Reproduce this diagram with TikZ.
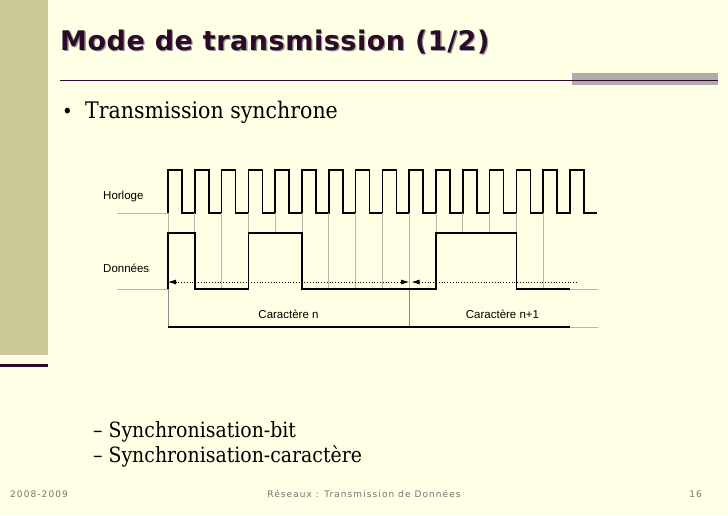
\documentclass[tikz,border=0pt]{standalone}
\usepackage{fontspec}
\usepackage{tikz}
\usetikzlibrary{arrows.meta, positioning, calc}
\newfontfamily\titlefont[LetterSpace=2]{DejaVu Sans}
\newfontfamily\bodyfont{DejaVu Serif Condensed}
\newfontfamily\figfont{Liberation Sans}
\newfontfamily\footfont[LetterSpace=12]{DejaVu Sans}
\definecolor{slidebg}{RGB}{255,255,229}
\definecolor{sidebar}{RGB}{204,201,152}
\definecolor{deepplum}{RGB}{45,10,40}
\definecolor{rulegray}{RGB}{176,172,172}
\definecolor{gridgray}{RGB}{185,185,170}
\tikzset{
  signal/.style={line width=1.7pt, black},
  gridline/.style={line width=0.8pt, gridgray},
  bound/.style={line width=0.8pt, black!45},
  span/.style={dotted, line width=0.8pt},
  figlabel/.style={font=\figfont\fontsize{11.5}{11.5}\selectfont, inner sep=0pt},
}

\begin{document}
\begin{tikzpicture}[x=1pt, y=-1pt]
    \useasboundingbox[fill=slidebg] (0,0) rectangle (728,515);

    % slide frame
    \fill[sidebar] (0,0) rectangle (48,355);
    \fill[deepplum] (0,363.5) rectangle (48,367);
    \fill[rulegray] (572,73) rectangle (718,85);
    \draw[deepplum, line width=1.2pt] (60,80.5) -- (718,80.5);

    \node[anchor=base west, inner sep=0pt, text=black!40, font=\titlefont\bfseries\fontsize{27}{27}\selectfont] (shadow) at (61.3,51.3) {Mode de transmission (1/2)};
    \node[anchor=base west, inner sep=0pt, text=deepplum, font=\titlefont\bfseries\fontsize{27}{27}\selectfont] (title) at (60,50) {Mode de transmission (1/2)};

    \node[anchor=base west, inner sep=0pt, font=\bodyfont\fontsize{20}{20}\selectfont] (bullet) at (62,118) {\textbullet};
    \node[anchor=base west, inner sep=0pt, font=\bodyfont\fontsize{22.8}{22.8}\selectfont] (point) at (85,118) {Transmission synchrone};

    % clock and data, one bit every 26.8
    \coordinate (t0) at (168,213);
    \draw[gridline] (117,213) -- (t0);
    \draw[signal] (t0) \foreach \k in {0,...,15} {
        -- ++(0,-43) -- ++(14,0) -- ++(0,43) -- ++(12.8,0)};

    \foreach \k/\lvl in {1/233,2/289,3/233,4/233,5/233,6/289,7/289,8/289,
                         10/233,11/233,12/233,13/233,14/289}
        \draw[gridline] ({168+\k*26.8},213) -- ({168+\k*26.8},\lvl);
    \draw[gridline] (168,213) -- (168,233);
    \draw[gridline] (409.2,213) -- (409.2,289);

    % character limits
    \coordinate (c0) at (168,327);
    \coordinate (c1) at (409.2,327);
    \coordinate (c2) at (570,327);
    \coordinate (c3) at (598,327);
    \draw[bound] (168,289) -- (c0);
    \draw[bound] (409.2,289) -- (c1);
    \draw[signal, line width=1.2pt] (c0) -- (c2);
    \draw[gridline] (c2) -- (c3);

    \draw[gridline] (117,289) -- (168,289);
    \draw[signal] (168,289) -- (168,233) -- (194.8,233) -- (194.8,289)
        -- (248.4,289) -- (248.4,233) -- (302,233) -- (302,289)
        -- (436,289) -- (436,233) -- (516.4,233) -- (516.4,289) -- (570,289);
    \draw[gridline] (570,289) -- (598,289);

    % character spans
    \coordinate (a0) at (168,282);
    \coordinate (a1) at (409.2,282);
    \coordinate (b0) at (411.5,282);
    \coordinate (b1) at (578,282);
    \draw[span, {Latex[length=8pt,width=5pt]}-{Latex[length=8pt,width=5pt]}] (a0) -- (a1);
    \draw[span, {Latex[length=8pt,width=5pt]}-] (b0) -- (b1);

    \node[figlabel, anchor=west] (horloge) at (103,197) {Horloge};
    \node[figlabel, anchor=west] (donnees) at (103,268) {Données{\fontsize{5}{5}\selectfont:}};
    \node[figlabel] (carn) at (288.5,314) {Caractère n};
    \node[figlabel] (carn1) at (502.5,314) {Caractère n+1};

    \node[anchor=base west, inner sep=0pt, font=\bodyfont\fontsize{21}{21}\selectfont] (sub1) at (93,437) {– Synchronisation-bit};
    \node[anchor=base west, inner sep=0pt, font=\bodyfont\fontsize{21}{21}\selectfont] (sub2) at (93,462) {– Synchronisation-caractère};

    % footer
    \node[anchor=base west, inner sep=0pt, text=black!55, font=\footfont\fontsize{9}{9}\selectfont] (year) at (10,497) {2008-2009};
    \node[anchor=base, inner sep=0pt, text=black!55, font=\footfont\fontsize{9}{9}\selectfont] (course) at (364,497) {Réseaux : Transmission de Données};
    \node[anchor=base east, inner sep=0pt, text=black!55, font=\footfont\fontsize{9}{9}\selectfont] (page) at (702,497) {16};
\end{tikzpicture}
\end{document}
